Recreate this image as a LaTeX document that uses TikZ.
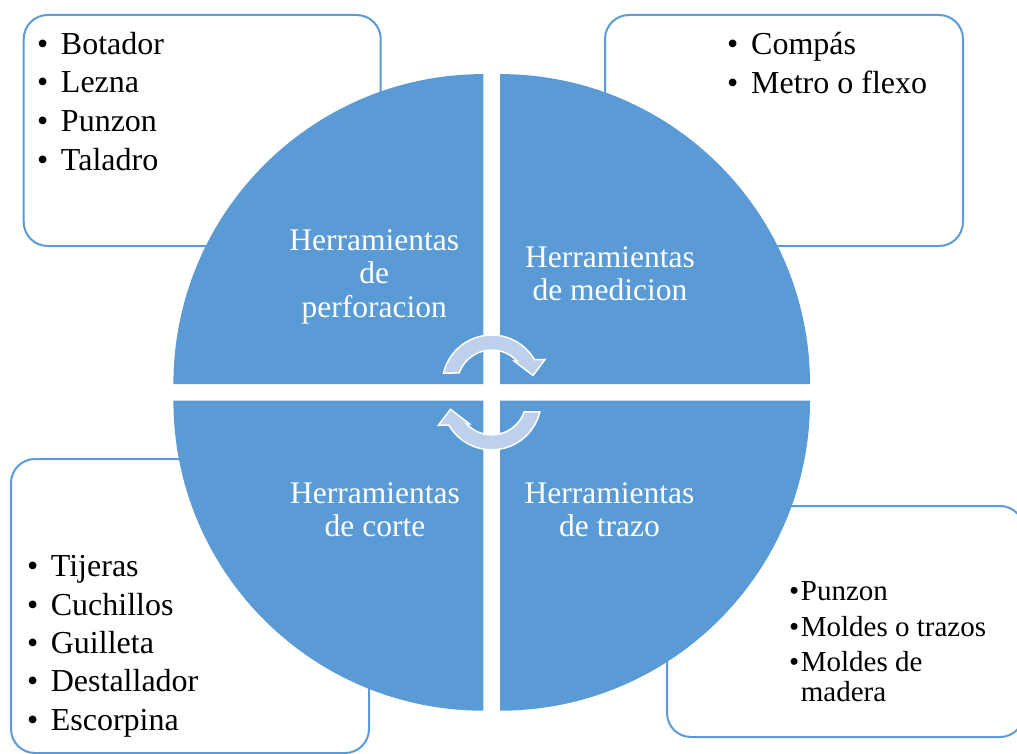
\documentclass[tikz,border=0pt]{standalone}
\usepackage{fontspec}
\setmainfont{Liberation Serif}
\definecolor{qblue}{RGB}{91,155,213}
\definecolor{arrowfill}{RGB}{189,209,236}
\begin{document}
\begin{tikzpicture}[x=1pt,y=1pt,
  box/.style={draw=qblue, line width=2pt, rounded corners=24pt, fill=white, inner sep=0pt, anchor=north west},
  quad/.style={fill=qblue},
  cyc/.style={fill=arrowfill, draw=white, line width=1.5pt, line join=miter},
  qlabel/.style={text=white, anchor=base, inner sep=0pt, font=\fontsize{31.5}{33.5}\selectfont},
  item/.style={anchor=base west, inner sep=0pt, font=\fontsize{32}{38}\selectfont},
  itemsm/.style={anchor=base west, inner sep=0pt, font=\fontsize{29}{35}\selectfont}]
\useasboundingbox (0,0) rectangle (1017,-754);
\clip (0,0) rectangle (1017,-754);

% outer boxes
\node[box, minimum width=357pt, minimum height=231pt] (boxTL) at (22.7,-14) {};
\node[box, minimum width=358pt, minimum height=231pt] (boxTR) at (604,-14) {};
\node[box, minimum width=358pt, minimum height=294pt] (boxBL) at (10,-458) {};
\node[box, minimum width=357pt, minimum height=231pt] (boxBR) at (666,-505) {};

% quadrants
\coordinate (C) at (491.7,-392.4);
\fill[quad] (483.4,-384.1) -- ++(180:310) arc[start angle=180, end angle=90, radius=310] -- cycle;
\fill[quad] (500,-384.1) -- ++(90:310) arc[start angle=90, end angle=0, radius=310] -- cycle;
\fill[quad] (483.4,-400.7) -- ++(270:310) arc[start angle=270, end angle=180, radius=310] -- cycle;
\fill[quad] (500,-400.7) -- ++(0:310) arc[start angle=360, end angle=270, radius=310] -- cycle;

% cycle arrows
\def\cycarrow{(491.7,-384.5) ++(166.6:49.5) arc[start angle=166.6, end angle=30, radius=49.5]
  -- (545,-359.5) -- (533,-375.5) -- (514,-361)
  -- ($(491.7,-384.5)+(43:34.5)$) arc[start angle=43, end angle=160.5, radius=34.5] -- cycle}
\path[cyc] (491.7,-384.5) ++(166.6:49.5) arc[start angle=166.6, end angle=30, radius=49.5]
  -- (545,-359.5) -- (533,-375.5) -- (514,-361)
  -- (516.93,-360.97) arc[start angle=43, end angle=160.5, radius=34.5] -- cycle;
\path[cyc, rotate around={180:(C)}] (491.7,-384.5) ++(166.6:49.5) arc[start angle=166.6, end angle=30, radius=49.5]
  -- (545,-359.5) -- (533,-375.5) -- (514,-361)
  -- (516.93,-360.97) arc[start angle=43, end angle=160.5, radius=34.5] -- cycle;

% quadrant labels
\node[qlabel] (qTLa) at (374.3,-250) {Herramientas};
\node[qlabel] (qTLb) at (374.3,-283.5) {de};
\node[qlabel] (qTLc) at (374.3,-317) {perforacion};
\node[qlabel] (qTRa) at (610,-267) {Herramientas};
\node[qlabel] (qTRb) at (610,-300.5) {de medicion};
\node[qlabel] (qBLa) at (375,-503) {Herramientas};
\node[qlabel] (qBLb) at (375,-536.5) {de corte};
\node[qlabel] (qBRa) at (609.5,-503) {Herramientas};
\node[qlabel] (qBRb) at (609.5,-536.5) {de trazo};

% list: top left
\node[item] (tl1) at (36.8,-54.3) {\makebox[24pt][l]{•}Botador};
\node[item] (tl2) at (36.8,-93) {\makebox[24pt][l]{•}Lezna};
\node[item] (tl3) at (36.8,-131.7) {\makebox[24pt][l]{•}Punzon};
\node[item] (tl4) at (36.8,-170.3) {\makebox[24pt][l]{•}Taladro};

% list: top right
\node[item] (tr1) at (727,-55) {\makebox[24pt][l]{•}Compás};
\node[item] (tr2) at (727,-94) {\makebox[24pt][l]{•}Metro o flexo};

% list: bottom left
\node[item] (bl1) at (27,-576.7) {\makebox[23.7pt][l]{•}Tijeras};
\node[item] (bl2) at (27,-615.1) {\makebox[23.7pt][l]{•}Cuchillos};
\node[item] (bl3) at (27,-653.5) {\makebox[23.7pt][l]{•}Guilleta};
\node[item] (bl4) at (27,-691.9) {\makebox[23.7pt][l]{•}Destallador};
\node[item] (bl5) at (27,-730.3) {\makebox[23.7pt][l]{•}Escorpina};

% list: bottom right
\node[itemsm] (br1) at (789,-600) {\makebox[11.7pt][l]{•}Punzon};
\node[itemsm] (br2) at (789,-636.5) {\makebox[11.7pt][l]{•}Moldes o trazos};
\node[itemsm] (br3) at (789,-671.5) {\makebox[11.7pt][l]{•}Moldes de};
\node[itemsm] (br4) at (800.7,-701.5) {madera};
\end{tikzpicture}
\end{document}
